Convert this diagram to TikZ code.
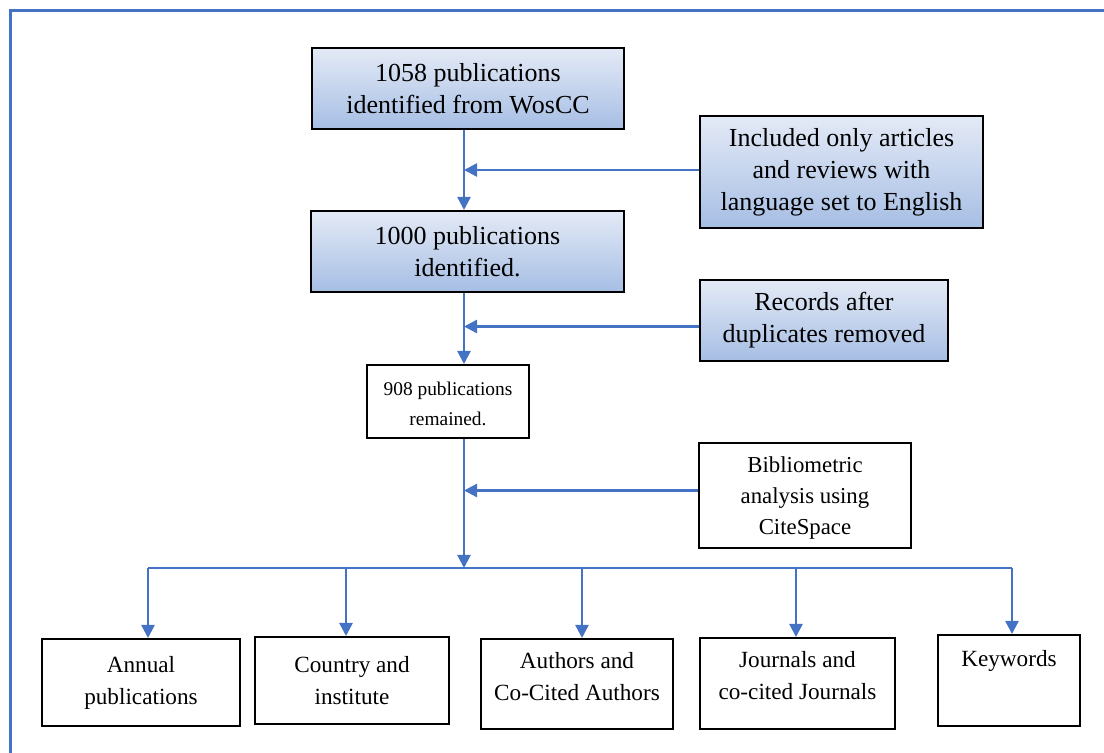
\documentclass[tikz,border=0pt]{standalone}
\usepackage{fontspec}
\setmainfont{Liberation Serif}
\usetikzlibrary{arrows.meta}
\definecolor{wordblue}{RGB}{68,114,196}
\definecolor{boxtop}{RGB}{228,234,246}
\definecolor{boxbottom}{RGB}{166,190,228}

\begin{document}
\begin{tikzpicture}[x=0.5pt,y=-0.5pt,>={Triangle[width=6.5pt,length=6.5pt]}]
  \tikzstyle{box}=[rectangle,draw=black,line width=1pt,inner sep=0pt,align=center]
  \tikzstyle{blue box}=[box,top color=boxtop,bottom color=boxbottom,
                        font=\fontsize{13}{16}\selectfont]
  \tikzstyle{plain box}=[box,fill=white,font=\fontsize{9.7}{15}\selectfont]
  \tikzstyle{result}=[box,anchor=north,font=\fontsize{11.6}{16}\selectfont]
  \tikzstyle{link}=[->,draw=wordblue,line width=1.2pt]
  \useasboundingbox (0,0) rectangle (1104,753);
  % frame
  \draw[wordblue,line width=1.5pt] (10,780) |- (1120,11);
  % screening steps
  \node [blue box,minimum width=156pt,minimum height=40.5pt] (n1058) at (468,88.5)
    {1058 publications\\identified from WosCC};
  \node [blue box,anchor=north,minimum width=141.5pt,text height=47.5pt,text depth=8.5pt]
    (incl) at (841.5,115) {Included only articles\\and reviews with\\language set to English};
  \node [blue box,minimum width=156.5pt,minimum height=40.5pt] (n1000) at (467.5,251.5)
    {1000 publications\\identified.};
  \node [blue box,minimum width=124pt,minimum height=40.5pt] (dup) at (824,320.5)
    {Records after\\duplicates removed};
  \node [plain box,anchor=north,minimum width=81pt,text height=30.5pt,text depth=6pt]
    (n908) at (448,364) {908 publications\\remained.};
  \node [plain box,anchor=north,minimum width=106pt,text height=46pt,text depth=6.5pt,
    font=\fontsize{11.4}{15.5}\selectfont] (cite) at (805,442)
    {Bibliometric\\analysis using\\CiteSpace};
  % analyses
  \node [result,minimum width=99pt,minimum height=43.5pt] (ann) at (141,638)
    {Annual\\publications};
  \node [result,minimum width=97pt,minimum height=43.5pt] (cty) at (352,636)
    {Country and\\institute};
  \node [result,minimum width=96pt,text height=30.5pt,text depth=14.5pt] (auth) at (577,638)
    {Authors and\\Co-Cited Authors};
  \node [result,minimum width=97.5pt,text height=30.5pt,text depth=15pt] (jour) at (797.5,637)
    {Journals and\\co-cited Journals};
  \node [result,minimum width=71pt,text height=16pt,text depth=29.5pt] (kw) at (1009,634)
    {Keywords};
  % trunk and side inputs
  \coordinate (trunk) at (464,0);
  \coordinate (bus) at (464,568);
  \draw [link] (trunk |- n1058.south) -- (trunk |- n1000.north);
  \draw [link] ([yshift=1pt]incl.west) -- ([yshift=1pt]incl.west -| trunk);
  \draw [link] (trunk |- n1000.south) -- (trunk |- n908.north);
  \draw [link] ([yshift=-3pt]dup.west) -- ([yshift=-3pt]dup.west -| trunk);
  \draw [link] (trunk |- n908.south) -- (bus);
  \draw [link] ([yshift=2.5pt]cite.west) -- ([yshift=2.5pt]cite.west -| trunk);
  % branches
  \coordinate (b1) at (148,568);
  \coordinate (b2) at (346,568);
  \coordinate (b3) at (582,568);
  \coordinate (b4) at (796,568);
  \coordinate (b5) at (1012,568);
  \draw [wordblue,line width=1.2pt] (b1) -- (b5);
  \foreach \b/\t in {b1/ann,b2/cty,b3/auth,b4/jour,b5/kw}
    \draw [link] (\b) -- (\b |- \t.north);
\end{tikzpicture}
\end{document}
